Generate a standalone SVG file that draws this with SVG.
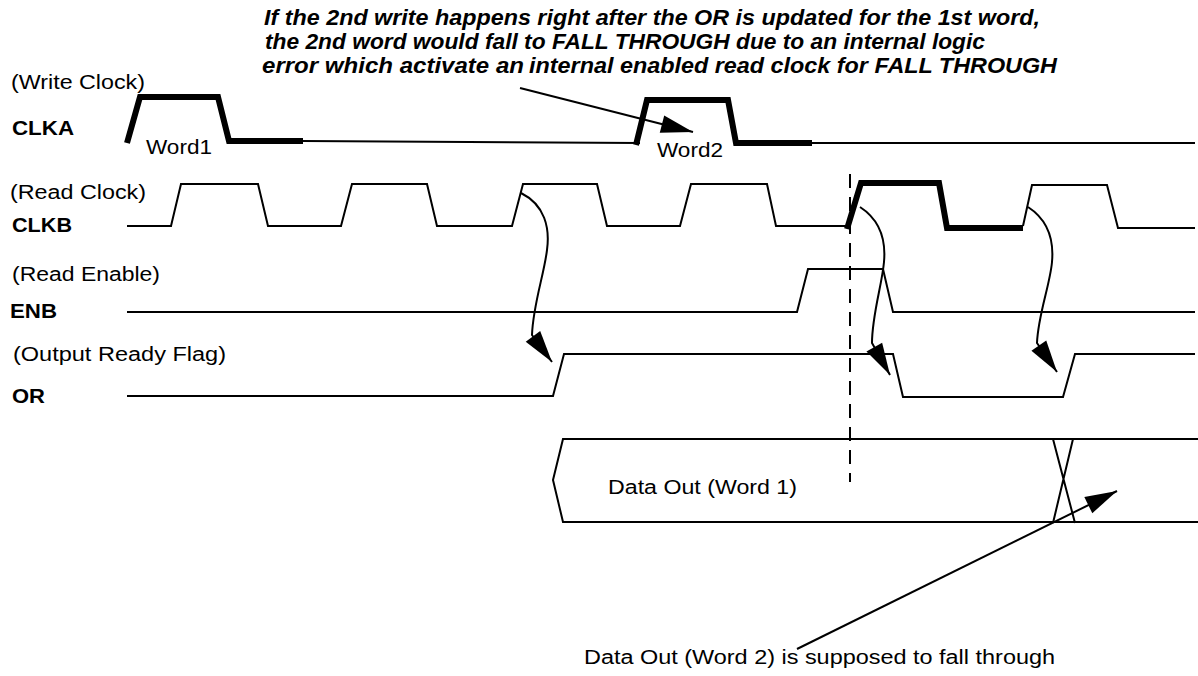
<svg xmlns="http://www.w3.org/2000/svg" width="1198" height="676" viewBox="0 0 1198 676">
<style>
text{font-family:"Liberation Sans",Arial,Helvetica,sans-serif;fill:#000}
.lbl{font-size:20px}
.sig{font-size:20px;font-weight:bold}
.note{font-size:22px;font-weight:bold;font-style:italic}
.w{fill:none;stroke:#000;stroke-width:2;stroke-linejoin:miter}
.thick{fill:none;stroke:#000;stroke-width:6;stroke-linejoin:miter}
.arr{fill:none;stroke:#000;stroke-width:2}
.dash{fill:none;stroke:#000;stroke-width:2;stroke-dasharray:14 9}
</style>
<defs>
<marker id="ah" markerUnits="userSpaceOnUse" markerWidth="36" markerHeight="22" viewBox="-34 -11 36 22" refX="0" refY="0" orient="auto">
<path d="M0,0 L-32,-9 L-32,9 Z" fill="#000"/>
</marker>
</defs>
<rect width="1198" height="676" fill="#fff"/>

<g id="note-top">
<text class="note" x="264" y="25" textLength="776" lengthAdjust="spacingAndGlyphs">If the 2nd write happens right after the OR is updated for the 1st word,</text>
<text class="note" x="265" y="49" textLength="720" lengthAdjust="spacingAndGlyphs">the 2nd word would fall to FALL THROUGH due to an internal logic</text>
<text class="note" y="73"><tspan x="262" textLength="262" lengthAdjust="spacingAndGlyphs">error which activate an</tspan><tspan x="529" textLength="528" lengthAdjust="spacingAndGlyphs">internal enabled read clock for FALL THROUGH</tspan></text>
</g>

<g id="clka">
<text class="lbl" x="11" y="89" textLength="134" lengthAdjust="spacingAndGlyphs">(Write Clock)</text>
<text class="sig" x="12" y="135" textLength="62" lengthAdjust="spacingAndGlyphs">CLKA</text>
<path class="thick" d="M127,143 L140,97 L218,97 L229,141 L303,141"/>
<path class="w" d="M303,141 L640,143"/>
<path class="thick" d="M636,145 L647,100 L728,100 L736,143 L812,143"/>
<path class="w" d="M812,143 L1195,143"/>
<text class="lbl" x="146" y="154" textLength="66" lengthAdjust="spacingAndGlyphs">Word1</text>
<text class="lbl" x="657" y="157" textLength="66" lengthAdjust="spacingAndGlyphs">Word2</text>
</g>

<g id="clkb">
<text class="lbl" x="10" y="199" textLength="136" lengthAdjust="spacingAndGlyphs">(Read Clock)</text>
<text class="sig" x="12" y="232" textLength="60" lengthAdjust="spacingAndGlyphs">CLKB</text>
<path class="w" d="M127,226 L171,226 L181,184 L258,184 L268,226 L341,226 L352,184 L427,184 L437,226 L512,226 L523,184 L597,184 L607,226 L680,226 L691,184 L767,184 L776,226 L847,226"/>
<path class="thick" d="M847,229 L861,183 L939,183 L947,228 L1023,228"/>
<path class="w" d="M1023,226 L1032,185 L1107,185 L1118,228 L1195,228"/>
</g>

<g id="enb">
<text class="lbl" x="12" y="281" textLength="148" lengthAdjust="spacingAndGlyphs">(Read Enable)</text>
<text class="sig" x="10" y="318" textLength="47" lengthAdjust="spacingAndGlyphs">ENB</text>
<path class="w" d="M127,312 L797,312 L808,269 L883,269 L893,312 L1195,312"/>
</g>

<g id="or">
<text class="lbl" x="13" y="361" textLength="213" lengthAdjust="spacingAndGlyphs">(Output Ready Flag)</text>
<text class="sig" x="12" y="403" textLength="33" lengthAdjust="spacingAndGlyphs">OR</text>
<path class="w" d="M127,396 L553,396 L564,354 L893,354 L903,397 L1063,397 L1075,354 L1195,354"/>
</g>

<g id="dataout">
<path class="w" d="M1198,439 L563,439 L553,480 L563,522 L1198,522"/>
<path class="w" d="M1053,439 L1075,523 M1073,439 L1053,523"/>
<text class="lbl" x="608" y="494" textLength="189" lengthAdjust="spacingAndGlyphs">Data Out (Word 1)</text>
</g>

<g id="note-bottom">
<text class="lbl" x="584" y="664" textLength="471" lengthAdjust="spacingAndGlyphs">Data Out (Word 2) is supposed to fall through</text>
</g>

<g id="connectors">
<path class="dash" d="M850,174 L850,482"/>
<path class="arr" d="M520,88 L693,132" marker-end="url(#ah)"/>
<path class="arr" d="M521,193 C545,205 550,228 547,250 C544,275 533,305 532,335 L552,362" marker-end="url(#ah)"/>
<path class="arr" d="M860,207 C880,220 886,240 884,262 C882,285 872,315 872,343 L890,375" marker-end="url(#ah)"/>
<path class="arr" d="M1028,207 C1048,220 1054,240 1052,262 C1050,285 1038,315 1037,343 L1057,372" marker-end="url(#ah)"/>
<path class="arr" d="M797,649 L1117,491" marker-end="url(#ah)"/>
</g>
</svg>
